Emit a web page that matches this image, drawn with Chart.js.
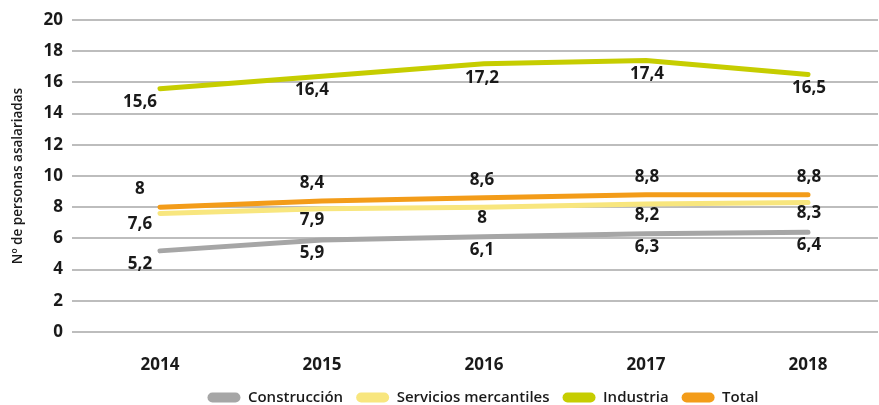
<!DOCTYPE html>
<html>
<head>
<meta charset="utf-8">
<script src="https://cdn.jsdelivr.net/npm/chart.js@4"></script>
<style>
html,body{margin:0;padding:0;background:#fff;}
#wrap{width:879px;height:405px;}
</style>
</head>
<body>
<div id="wrap"><canvas id="c" width="879" height="405"></canvas></div>
<script>
const years = [2014, 2015, 2016, 2017, 2018];
const construccion = [5.2, 5.9, 6.1, 6.3, 6.4];
const servicios = [7.6, 7.9, 8, 8.2, 8.3];
const industria = [15.6, 16.4, 17.2, 17.4, 16.5];
const total = [8, 8.4, 8.6, 8.8, 8.8];
const yTicks = [0, 2, 4, 6, 8, 10, 12, 14, 16, 18, 20];
const seriesNames = ['Construcción', 'Servicios mercantiles', 'Industria', 'Total'];

const FONT = "'Open Sans', sans-serif";
const labelDx = [-20, -10, -2, 1, 1];
const labelDy = [13, 11, 14, -18];
const LEGEND_CENTER = 399;
const LEGEND_SHIFT_X = 44;

function pts(arr){ return arr.map((v,i)=>({x: years[i], y: v})); }

const colors = ['#a6a6a6', '#f8e67e', '#c6cd00', '#f39c19'];
const seriesData = [construccion, servicios, industria, total];

const datasets = seriesData.map((d,i)=>({
  label: seriesNames[i],
  data: pts(d),
  borderColor: colors[i],
  backgroundColor: colors[i],
  borderWidth: 5,
  borderCapStyle: 'round',
  borderJoinStyle: 'round',
  pointRadius: 0,
  tension: 0
}));

const labelPlugin = {
  id: 'valueLabels',
  afterDatasetsDraw(chart){
    const ctx = chart.ctx;
    ctx.save();
    ctx.font = "700 17px " + FONT;
    ctx.fillStyle = '#1a1a1a';
    ctx.textAlign = 'center';
    ctx.textBaseline = 'middle';
    chart.data.datasets.forEach((ds, di)=>{
      const meta = chart.getDatasetMeta(di);
      meta.data.forEach((el, i)=>{
        const v = ds.data[i].y;
        const txt = String(v).replace('.', ',');
        ctx.fillText(txt, el.x + labelDx[i], el.y + labelDy[di]);
      });
    });
    ctx.restore();
  }
};

const legendMover = {
  id: 'legendMover',
  afterLayout(chart){
    const lg = chart.legend;
    if(!lg || !Number.isFinite(lg.top)) return;
    const pad = lg.options.labels.padding;
    const fs = lg.options.labels.font.size;
    const curCenter = lg.top + pad + fs * 1.2 / 2;
    const dy = LEGEND_CENTER - curCenter;
    if(!Number.isFinite(dy)) return;
    lg.top += dy; lg.bottom += dy;
    lg.left += LEGEND_SHIFT_X; lg.right += LEGEND_SHIFT_X;
  }
};

new Chart(document.getElementById('c'), {
  type: 'line',
  data: { datasets },
  options: {
    responsive: false,
    animation: false,
    layout: { padding: { top: 20, right: 1, left: 0, bottom: -11 } },
    scales: {
      x: {
        type: 'linear',
        min: 2013.457,
        max: 2018.432,
        afterBuildTicks(s){ s.ticks = years.map(v=>({value:v})); },
        afterFit(s){ s.height = 46; },
        ticks: {
          callback: v => String(v),
          font: { family: FONT, size: 17, weight: '700' },
          color: '#1a1a1a',
          padding: 23
        },
        grid: { display: false, drawTicks: false },
        border: { display: false }
      },
      y: {
        min: 0, max: 20,
        afterBuildTicks(s){ s.ticks = yTicks.map(v=>({value:v})); },
        afterFit(s){ s.width = 72; },
        ticks: {
          font: { family: FONT, size: 17, weight: '700' },
          color: '#1a1a1a',
          padding: 9
        },
        grid: { color: '#bdbdbd', lineWidth: 2, drawTicks: false },
        border: { display: false },
        title: {
          display: true,
          text: 'Nº de personas asalariadas',
          font: { family: FONT, size: 13.5, weight: '600' },
          color: '#1a1a1a',
          padding: { top: 10, bottom: 0 }
        }
      }
    },
    plugins: {
      legend: {
        position: 'bottom',
        labels: {
          boxWidth: 33,
          boxHeight: 10,
          useBorderRadius: true,
          borderRadius: 5,
          padding: 13,
          color: '#1a1a1a',
          font: { family: FONT, size: 15, weight: '600' },
          generateLabels(chart){
            const items = Chart.defaults.plugins.legend.labels.generateLabels(chart);
            items.forEach(it=>{ it.lineWidth = 0; it.strokeStyle = 'rgba(0,0,0,0)'; });
            return items;
          }
        }
      },
      tooltip: { enabled: false }
    }
  },
  plugins: [labelPlugin, legendMover]
});
</script>
</body>
</html>
